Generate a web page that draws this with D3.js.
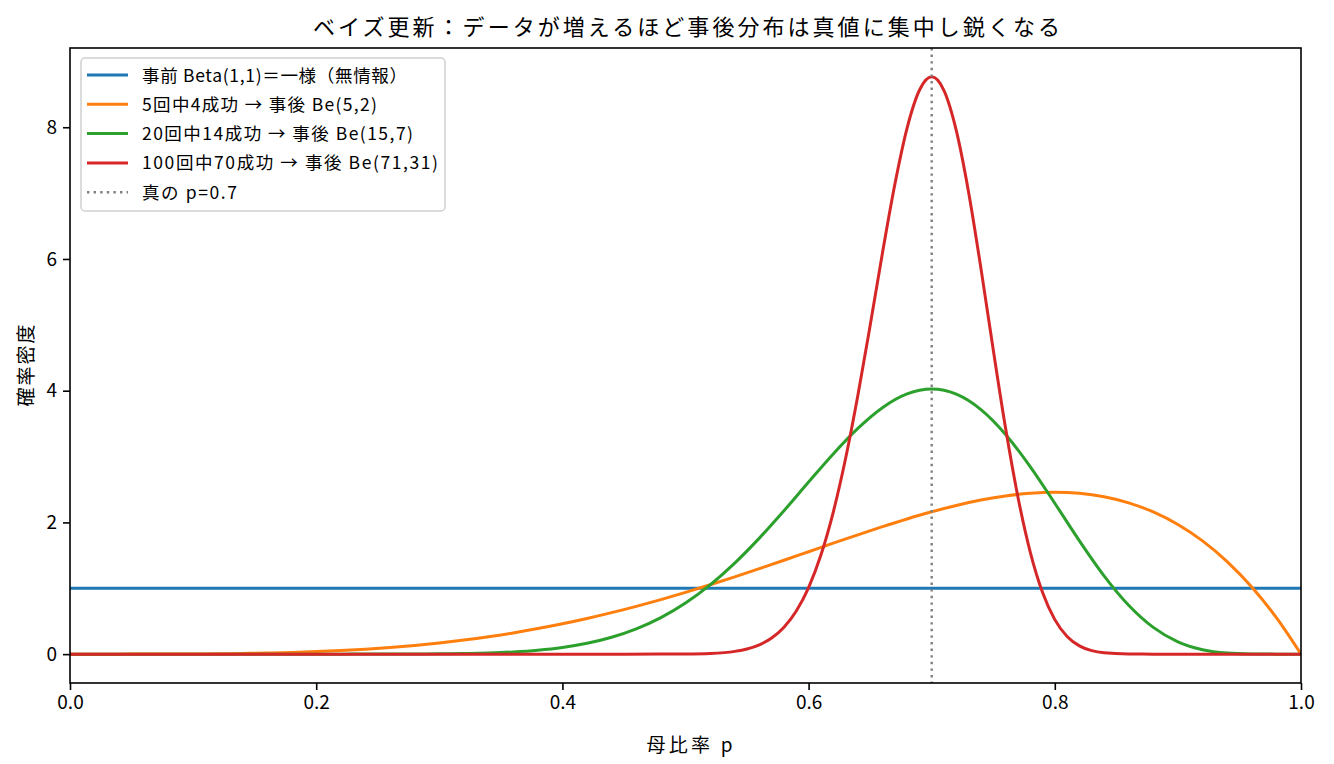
<!DOCTYPE html>
<html><head><meta charset="utf-8">
<script src="https://cdn.jsdelivr.net/npm/d3@7"></script>
<style>
body{margin:0;background:#fff;}
svg{font-family:"Noto Sans CJK JP","Noto Sans",sans-serif;}
</style></head>
<body><svg id="c" width="1334" height="764"></svg>
<script>
const title = "ベイズ更新：データが増えるほど事後分布は真値に集中し鋭くなる";
const xLabel = "母比率 p";
const yLabel = "確率密度";
const seriesNames = ["事前 Beta(1,1)＝一様（無情報）","5回中4成功 → 事後 Be(5,2)","20回中14成功 → 事後 Be(15,7)","100回中70成功 → 事後 Be(71,31)"];
const trueLabel = "真の p=0.7";
const trueP = 0.7;
const xTicks = [0,0.2,0.4,0.6,0.8,1.0];
const yTicks = [0,2,4,6,8];

const priorX = [0,1];
const priorY = [1,1];

const gridX = [0,0.02,0.04,0.06,0.08,0.1,0.12,0.14,0.16,0.18,0.2,0.22,0.24,0.26,0.28,0.3,0.32,0.34,0.36,0.38,0.4,0.42,0.44,0.46,0.48,0.5,0.52,0.54,0.56,0.58,0.6,0.62,0.64,0.66,0.68,0.7,0.72,0.74,0.76,0.78,0.8,0.82,0.84,0.86,0.88,0.9,0.92,0.94,0.96,0.98,1.0];
const be52Y = [0,0.0000047,0.000074,0.000365,0.00113,0.0027,0.00547,0.00991,0.01652,0.02582,0.0384,0.05482,0.07565,0.10145,0.13277,0.1701,0.2139,0.26459,0.32249,0.38784,0.4608,0.54143,0.62968,0.72535,0.82811,0.9375,1.05287,1.17342,1.29815,1.42588,1.5552,1.6845,1.81194,1.93542,2.05261,2.1609,2.2574,2.33895,2.40208,2.44299,2.4576,2.44146,2.38978,2.29743,2.1589,1.9683,1.71934,1.40535,1.01922,0.55342,0];
const be157Y = [0,0,0,0,0,0,0,0,0,0,0,0.00012,0.00033,0.00086,0.00207,0.00458,0.0095,0.01857,0.03435,0.06055,0.10195,0.16468,0.25595,0.38332,0.55461,0.77631,1.05222,1.38254,1.76178,2.17815,2.6126,3.03952,3.42718,3.74187,3.95024,4.0244,3.94641,3.71266,3.33623,2.84763,2.29104,1.72042,1.18914,0.74193,0.4059,0.1862,0.06643,0.01597,0.00188,0.00004,0];
const be7131X = [0,0.45,0.48,0.5,0.52,0.54,0.55,0.56,0.57,0.58,0.59,0.6,0.61,0.62,0.63,0.64,0.65,0.66,0.67,0.68,0.69,0.7,0.71,0.72,0.73,0.74,0.75,0.76,0.77,0.78,0.79,0.8,0.81,0.82,0.83,0.84,0.86,0.88,0.9,1.0];
const be7131Y = [0,0,0.00044,0.00234,0.0107,0.042,0.0784,0.1409,0.2441,0.4072,0.6539,1.0109,1.5041,2.1536,2.966,3.9262,4.9911,6.0911,7.1267,7.9874,8.5614,8.765,8.5565,7.9482,7.0107,5.857,4.6211,3.4321,2.3903,1.5545,0.9391,0.5241,0.2684,0.1251,0.0526,0.0197,0.0019,0.0001,0,0];

const colors = ["#1f77b4","#ff7f0e","#2ca02c","#d62728"];

const svg = d3.select("#c");
const m = {l:70, r:1301, t:48, b:683};
const x = d3.scaleLinear().domain([0,1]).range([m.l,m.r]);
const yMax = 8.765;
const y = d3.scaleLinear().domain([-0.05*yMax, 1.05*yMax]).range([m.b,m.t]);

svg.append("defs").append("clipPath").attr("id","pc").append("rect")
  .attr("x",m.l).attr("y",m.t).attr("width",m.r-m.l).attr("height",m.b-m.t);

const series = [
  {xs:priorX, ys:priorY},
  {xs:gridX, ys:be52Y},
  {xs:gridX, ys:be157Y},
  {xs:be7131X, ys:be7131Y}
];
const LW = 3;
const line = d3.line().x(d=>x(d[0])).y(d=>y(d[1])).curve(d3.curveMonotoneX);
const g = svg.append("g").attr("clip-path","url(#pc)");
series.forEach((s,i)=>{
  g.append("path").datum(s.xs.map((v,j)=>[v,s.ys[j]]))
   .attr("d",line).attr("fill","none").attr("stroke",colors[i]).attr("stroke-width",LW)
   .attr("stroke-linejoin","round");
});
g.append("line").attr("x1",x(trueP)).attr("x2",x(trueP)).attr("y1",m.t).attr("y2",m.b)
  .attr("stroke","#808080").attr("stroke-width",2.4).attr("stroke-dasharray","2.4,4.2");

// axes
const xa = svg.append("g").attr("transform",`translate(0,${m.b})`)
  .call(d3.axisBottom(x).tickValues(xTicks).tickFormat(d3.format(".1f")).tickSize(7).tickPadding(6));
const ya = svg.append("g").attr("transform",`translate(${m.l},0)`)
  .call(d3.axisLeft(y).tickValues(yTicks).tickFormat(d3.format("d")).tickSize(7).tickPadding(6));
[xa,ya].forEach(a=>{
  a.select(".domain").remove();
  a.selectAll("line").attr("stroke","#000").attr("stroke-width",1.6);
  a.selectAll("text").attr("font-size",19).attr("fill","#000").attr("font-family","'Noto Sans CJK JP',sans-serif");
});
svg.append("rect").attr("x",m.l).attr("y",m.t).attr("width",m.r-m.l).attr("height",m.b-m.t)
  .attr("fill","none").attr("stroke","#000").attr("stroke-width",1.6);

svg.append("text").attr("x",(m.l+m.r)/2+1).attr("y",35).attr("text-anchor","middle")
  .attr("font-size",22).attr("textLength",747).attr("lengthAdjust","spacing").text(title);
svg.append("text").attr("x",(m.l+m.r)/2+4).attr("y",752).attr("text-anchor","middle")
  .attr("font-size",19).attr("textLength",86).attr("lengthAdjust","spacing").text(xLabel);
svg.append("text").attr("transform",`translate(33,${(m.t+m.b)/2}) rotate(-90)`).attr("text-anchor","middle")
  .attr("font-size",19).attr("textLength",82).attr("lengthAdjust","spacing").text(yLabel);

// legend
const lg = svg.append("g");
lg.append("rect").attr("x",81).attr("y",58).attr("width",364).attr("height",153).attr("rx",4)
  .attr("fill","#fff").attr("fill-opacity",0.8).attr("stroke","#d0d0d0").attr("stroke-width",1.5);
const rowY0 = 75, rowDy = 29.3;
const legW = [265,235,271,296,95];
seriesNames.forEach((n,i)=>{
  const yy = rowY0 + i*rowDy;
  lg.append("line").attr("x1",87).attr("x2",128).attr("y1",yy).attr("y2",yy)
    .attr("stroke",colors[i]).attr("stroke-width",LW);
  lg.append("text").attr("x",142).attr("y",yy+6.5).attr("font-size",17.5)
    .attr("textLength",legW[i]).attr("lengthAdjust","spacing").text(n);
});
{
  const yy = rowY0 + 4*rowDy;
  lg.append("line").attr("x1",87).attr("x2",128).attr("y1",yy).attr("y2",yy)
    .attr("stroke","#808080").attr("stroke-width",2.4).attr("stroke-dasharray","2.4,4.2");
  lg.append("text").attr("x",142).attr("y",yy+6.5).attr("font-size",17.5)
    .attr("textLength",legW[4]).attr("lengthAdjust","spacing").text(trueLabel);
}
</script></body></html>
